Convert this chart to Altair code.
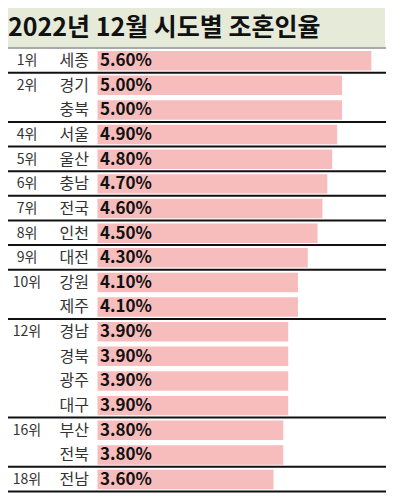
import altair as alt
import pandas as pd

title_text = "2022년 12월 시도별 조혼인율"
regions = ["세종", "경기", "충북", "서울", "울산", "충남", "전국", "인천", "대전",
           "강원", "제주", "경남", "경북", "광주", "대구", "부산", "전북", "전남"]
rates = [5.60, 5.00, 5.00, 4.90, 4.80, 4.70, 4.60, 4.50, 4.30,
         4.10, 4.10, 3.90, 3.90, 3.90, 3.90, 3.80, 3.80, 3.60]
ranks = [1, 2, 2, 4, 5, 6, 7, 8, 9, 10, 10, 12, 12, 12, 12, 16, 16, 18]

FONT = "Noto Sans CJK KR"

rows = []
for i, (reg, val, rk) in enumerate(zip(regions, rates, ranks)):
    first = i == 0 or ranks[i - 1] != rk
    rows.append({
        "row": i,
        "region": reg,
        "rate": val,
        "rank_label": f"{rk}위" if first else "",
        "value_label": f"{val:.2f}%",
    })
df = pd.DataFrame(rows)

# group separators: start of each rank group, plus the bottom edge
seps = [i for i in range(1, len(ranks)) if ranks[i] != ranks[i - 1]] + [len(ranks)]
sep_df = pd.DataFrame({"row": seps})
top_df = pd.DataFrame({"row": [0]})

y_scale = alt.Scale(domain=[0, 18], range=[40, 483.5], nice=False, zero=False)
x_scale = alt.Scale(domain=[0, 5.9], range=[89.5, 89.5 + 48.9 * 5.9], nice=False)

base = alt.Chart(df)

bars = base.transform_calculate(
    y0="datum.row + 0.12", y1="datum.row + 0.91"
).mark_rect(color="#f7bcbc").encode(
    x=alt.X("zero:Q", scale=x_scale, axis=None),
    x2="rate:Q",
    y=alt.Y("y0:Q", scale=y_scale, axis=None),
    y2="y1:Q",
).transform_calculate(zero="0")

mid = base.transform_calculate(ym="datum.row + 0.53")

value_text = mid.mark_text(
    align="left", baseline="middle", font=FONT, fontSize=17, fontWeight="bold", color="#111"
).encode(x=alt.value(92), y=alt.Y("ym:Q", scale=y_scale, axis=None), text="value_label:N")

region_text = mid.mark_text(
    align="right", baseline="middle", font=FONT, fontSize=16, color="#333"
).encode(x=alt.value(81), y=alt.Y("ym:Q", scale=y_scale, axis=None), text="region:N")

rank_text = mid.mark_text(
    align="center", baseline="middle", font=FONT, fontSize=14, color="#333"
).encode(x=alt.value(19), y=alt.Y("ym:Q", scale=y_scale, axis=None), text="rank_label:N")

sep_lines = alt.Chart(sep_df).mark_rule(color="#111", strokeWidth=2).encode(
    x=alt.value(0), x2=alt.value(378), y=alt.Y("row:Q", scale=y_scale, axis=None)
)
top_line = alt.Chart(top_df).mark_rule(color="#555", strokeWidth=1.2).encode(
    x=alt.value(0), x2=alt.value(378), y=alt.Y("row:Q", scale=y_scale, axis=None)
)

title_df = pd.DataFrame({"t": [title_text]})
title_bg = alt.Chart(title_df).mark_rect(color="#e6ebd9").encode(
    x=alt.value(0), x2=alt.value(377), y=alt.value(0), y2=alt.value(39)
)
title = alt.Chart(title_df).mark_text(
    align="left", baseline="alphabetic", font=FONT, fontSize=25, fontWeight="bold", color="#111"
).encode(x=alt.value(0), y=alt.value(28), text="t:N")

chart = alt.layer(
    title_bg, title, bars, value_text, region_text, rank_text, top_line, sep_lines
).properties(
    width=378, height=486, autosize=alt.AutoSizeParams(type="none"), padding=0
).configure_view(stroke=None)

chart.save("out.html", embed_options={"renderer": "svg", "actions": False})
